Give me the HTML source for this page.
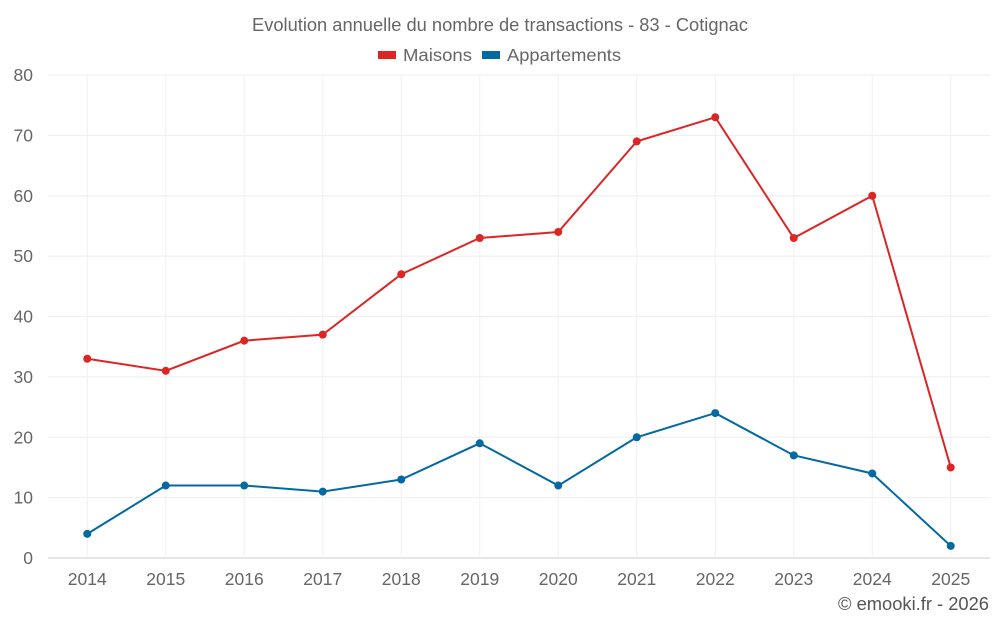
<!DOCTYPE html>
<html><head><meta charset="utf-8"><style>
body{margin:0;background:#fff;font-family:"Liberation Sans",sans-serif;}
</style></head><body>
<svg id="chart" width="1000" height="625" xmlns="http://www.w3.org/2000/svg">
<text x="500" y="31" text-anchor="middle" font-size="18" fill="#666" textLength="496" lengthAdjust="spacingAndGlyphs">Evolution annuelle du nombre de transactions - 83 - Cotignac</text>
<g><rect x="378" y="51" width="18" height="8" fill="#dc2626"/><text x="403" y="61" font-size="17.5" fill="#666" textLength="69" lengthAdjust="spacingAndGlyphs">Maisons</text></g>
<g><rect x="482" y="51" width="18" height="8" fill="#0369a1"/><text x="507" y="61" font-size="17.5" fill="#666" textLength="114" lengthAdjust="spacingAndGlyphs">Appartements</text></g>
<g id="grid"></g><g id="axes"></g><g id="series"></g>
<text x="989" y="610" text-anchor="end" font-size="18" fill="#555" textLength="151" lengthAdjust="spacingAndGlyphs">© emooki.fr - 2026</text>
</svg>
<script>
const years=["2014","2015","2016","2017","2018","2019","2020","2021","2022","2023","2024","2025"];
const maisons=[33,31,36,37,47,53,54,69,73,53,60,15];
const appartements=[4,12,12,11,13,19,12,20,24,17,14,2];
const yTicks=[0,10,20,30,40,50,60,70,80];
const L=48,R=990,T=75,B=558,yMax=80;
const NS="http://www.w3.org/2000/svg";
const band=(R-L)/years.length;
const x=i=>L+band*(i+0.5);
const y=v=>B-(v/yMax)*(B-T);
function mk(tag,attrs,parent){const e=document.createElementNS(NS,tag);for(const k in attrs)e.setAttribute(k,attrs[k]);document.getElementById(parent).appendChild(e);return e;}
yTicks.forEach(t=>{
 const g=mk('line',{x1:L,x2:R,y1:y(t),y2:y(t),stroke:t===0?'#ccc':'#eee'},'grid');
 
 
 const tx=mk('text',{x:33,y:y(t)+6,'text-anchor':'end','font-size':17.5,fill:'#666'},'axes');tx.textContent=t;
 
 
});
years.forEach((yr,i)=>{
 const g=mk('line',{x1:x(i),x2:x(i),y1:T,y2:B,stroke:'#f0f0f0'},'grid');
 
 
 const tx=mk('text',{x:x(i),y:585,'text-anchor':'middle','font-size':17.5,fill:'#666'},'axes');tx.textContent=yr;
 
 
});
function series(vals,color,name){
 const p=mk('polyline',{points:vals.map((v,i)=>x(i)+','+y(v)).join(' '),fill:'none',stroke:color,'stroke-width':2},'series');
 
 
 vals.forEach((v,i)=>{const c=mk('circle',{cx:x(i),cy:y(v),r:4,fill:color},'series');
  
  });
}
series(maisons,'#dc2626','maisons');
series(appartements,'#0369a1','appartements');
</script>
</body></html>
